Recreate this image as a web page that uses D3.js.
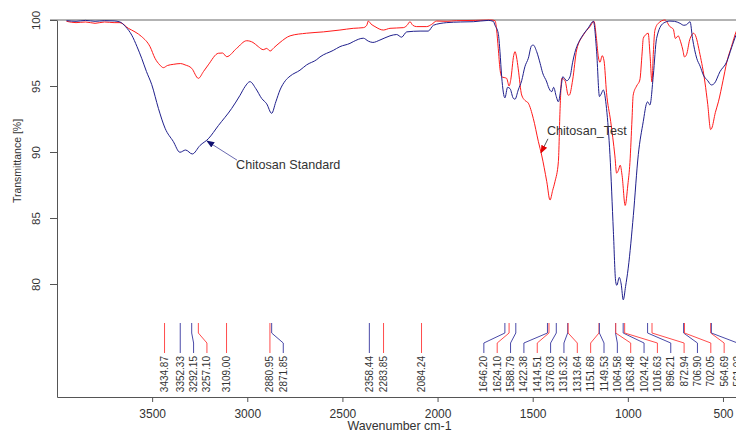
<!DOCTYPE html>
<html>
<head>
<meta charset="utf-8">
<script src="https://cdn.jsdelivr.net/npm/d3@7"></script>
<style>
  body { margin: 0; background: #fff; }
  svg { display: block; font-family: 'Liberation Sans', Arial, sans-serif; }
</style>
</head>
<body>
<svg width="736" height="432"></svg>
<script>
// [wavenumber cm-1, transmittance %]
const standardSpectrum = [
  [3950, 99.95], [3900, 99.9], [3850, 99.97], [3800, 99.9], [3750, 99.95], [3700, 99.93], [3669, 99.85],
  [3640, 99.5], [3607, 98.85], [3580, 98.0], [3555, 97.1], [3530, 96.1], [3502, 95.1], [3467, 93.3],
  [3432, 91.8], [3389, 90.8], [3354, 89.98], [3324, 90.15], [3289, 89.85], [3248, 90.5], [3205, 91.0],
  [3152, 92.0], [3082, 93.3], [3038, 94.3], [3012, 94.95], [2986, 95.33], [2955, 94.8], [2924, 94.05],
  [2898, 93.65], [2872, 92.93], [2850, 93.8], [2828, 94.7], [2800, 95.4], [2775, 95.75], [2723, 96.2],
  [2688, 96.6], [2635, 97.0], [2618, 97.2], [2548, 97.7], [2513, 97.98], [2460, 98.23], [2443, 98.36],
  [2390, 98.62], [2364, 98.4], [2340, 98.3], [2303, 98.48], [2250, 98.8], [2215, 98.9], [2189, 98.7],
  [2162, 99.1], [2092, 99.16], [2049, 99.16], [2022, 99.6], [1952, 99.8], [1880, 99.85], [1812, 99.87],
  [1733, 99.97], [1707, 99.9], [1698, 99.6], [1681, 98.99], [1672, 97.6], [1663, 95.7], [1646, 94.1],
  [1632, 94.9], [1619, 94.8], [1602, 94.07], [1593, 94.0], [1576, 94.7], [1558, 95.4], [1541, 96.46],
  [1523, 97.1], [1506, 98.05], [1497, 98.1], [1479, 97.6], [1461, 96.72], [1448, 96.0], [1426, 95.3],
  [1418, 94.95], [1400, 94.57], [1390, 94.9], [1376, 94.2], [1365, 93.8], [1350, 95.0], [1342, 95.7],
  [1321, 95.4], [1304, 95.7], [1290, 96.8], [1278, 97.55], [1252, 98.48], [1234, 98.9], [1208, 99.4],
  [1181, 99.9], [1164, 97.6], [1149, 94.2], [1140, 94.4], [1129, 94.7], [1112, 93.3], [1094, 89.8],
  [1076, 84.0], [1064, 80.2], [1058, 79.9], [1045, 80.5], [1035, 80.0], [1024, 78.8], [1012, 79.8],
  [998, 81.2], [971, 85.2], [945, 89.8], [919, 92.3], [901, 93.7], [896, 93.8], [884, 93.56],
  [866, 95.83], [849, 98.6], [814, 99.75], [779, 99.92], [755, 99.9], [726, 99.75], [706, 99.6],
  [691, 99.65], [673, 99.87], [660, 98.6], [638, 97.1], [620, 96.5], [603, 95.83], [580, 95.4],
  [561, 95.08], [545, 95.2], [516, 96.08], [480, 96.84], [455, 97.9], [431, 98.86], [400, 99.6]
]

const testSpectrum = [
  [3950, 99.9], [3900, 99.8], [3850, 99.85], [3800, 99.75], [3750, 99.85], [3700, 99.8], [3669, 99.8],
  [3625, 99.37], [3590, 99.1], [3555, 98.74], [3511, 97.98], [3485, 97.1], [3460, 96.6], [3441, 96.39],
  [3420, 96.55], [3389, 96.64], [3350, 96.7], [3327, 96.6], [3292, 96.34], [3257, 95.58], [3230, 96.1],
  [3205, 96.6], [3152, 97.48], [3130, 97.5], [3108, 97.22], [3056, 97.85], [3003, 98.43], [2970, 98.3],
  [2942, 97.98], [2916, 97.75], [2898, 97.85], [2880, 97.65], [2860, 97.9], [2828, 98.3], [2775, 98.8],
  [2688, 99.0], [2600, 99.1], [2513, 99.24], [2443, 99.37], [2390, 99.42], [2372, 99.6], [2364, 99.92],
  [2350, 99.7], [2329, 99.5], [2285, 99.24], [2250, 99.37], [2180, 99.42], [2160, 99.6], [2145, 99.87],
  [2130, 99.6], [2110, 99.5], [2057, 99.5], [2031, 99.67], [2005, 99.92], [1950, 99.9], [1900, 99.95],
  [1800, 99.97], [1720, 100], [1698, 99.95], [1690, 99.3], [1681, 97.85], [1672, 96.3], [1663, 95.7],
  [1637, 95.58], [1624, 95.0], [1615, 95.5], [1600, 97.3], [1593, 97.6], [1585, 97.2], [1576, 96.3],
  [1558, 94.32], [1540, 93.9], [1523, 93.7], [1497, 92.55], [1470, 90.78], [1453, 89.77], [1426, 87.75],
  [1409, 86.36], [1395, 87.1], [1383, 87.75], [1365, 89.27], [1356, 93.3], [1347, 95.58], [1330, 95.4],
  [1313, 94.3], [1307, 94.32], [1290, 95.45], [1269, 97.73], [1234, 98.86], [1199, 99.5], [1178, 99.9],
  [1165, 98.6], [1155, 97.2], [1146, 96.8], [1135, 97.3], [1125, 96.9], [1112, 94.5], [1090, 92.3],
  [1068, 89.7], [1059, 88.4], [1050, 88.6], [1040, 89.0], [1030, 88.2], [1014, 85.95], [1000, 87.5],
  [989, 89.2], [978, 92.5], [972, 94.3], [954, 95.0], [937, 95.45], [925, 97.5], [919, 98.6],
  [905, 98.9], [893, 99.0], [884, 97.5], [873, 95.3], [866, 97.5], [858, 99.2], [840, 99.75],
  [805, 100], [779, 99.5], [761, 99.3], [750, 98.6], [735, 98.8], [726, 98.5], [712, 97.8],
  [702, 97.2], [691, 97.4], [675, 98.5], [664, 98.86], [656, 99.0], [647, 98.9], [621, 97.4],
  [595, 95.3], [580, 93.6], [565, 91.7], [559, 91.8], [540, 93.0], [524, 93.8], [500, 95.4],
  [480, 96.8], [455, 98.0], [431, 99.1], [400, 99.7]
]

const xTicks = [3500, 3000, 2500, 2000, 1500, 1000, 500]
const yTicks = [80, 85, 90, 95, 100]

const peakLabels = [
  '3434.87', '3352.33', '3292.15', '3257.10', '3109.00', '2880.95', '2871.85', '2358.44', '2283.85',
  '2084.24', '1646.20', '1624.10', '1588.79', '1422.38', '1414.51', '1376.03', '1316.32', '1313.64',
  '1151.68', '1149.53', '1064.58', '1063.48', '1024.42', '1016.63', '896.21', '872.94', '706.90',
  '702.05', '564.69', '561.02'
]
const peakSeries = [
  'test', 'standard', 'standard', 'test', 'test', 'test', 'standard', 'standard', 'test',
  'test', 'standard', 'test', 'standard', 'standard', 'test', 'standard', 'standard', 'test',
  'test', 'standard', 'standard', 'test', 'standard', 'test', 'standard', 'test', 'standard',
  'test', 'test', 'standard'
]

const annotations = [
  { text: 'Chitosan Standard', series: 'standard', tip: [3212, 90.83], at: [3059, 88.7] },
  { text: 'Chitosan_Test', series: 'test', tip: [1456, 89.95], at: [1425, 91.3] }
]

const colors = { standard: '#1f1f8c', test: '#ff1a1a' }
const labelColors = { standard: '#4a4aa8', test: '#ff4d4d' }

let svg = d3.select('svg')

let x = d3.scaleLinear().domain([4000, 400]).range([57, 742])
let y = d3.scaleLinear().domain([71.44, 100]).range([397, 20])

let defs = svg.append('defs')
Object.keys(colors).forEach(function (k) {
  defs.append('marker')
    .attr('id', 'arrow_' + k)
    .attr('viewBox', '0 -5 10 10')
    .attr('markerUnits', 'userSpaceOnUse')
    .attr('markerWidth', 8)
    .attr('markerHeight', 8)
    .attr('refX', 9)
    .attr('refY', 0)
    .attr('orient', 'auto')
    .append('path')
    .attr('d', 'M0,-4L10,0L0,4Z')
    .attr('fill', k === 'standard' ? '#101070' : '#e00000')
})

// reference line at 100 %
svg.append('line')
  .attr('x1', x(4000) - 7).attr('x2', x(400))
  .attr('y1', y(100)).attr('y2', y(100))
  .attr('stroke', '#b3b3b3')
  .attr('stroke-width', 2)

// axes
let xAxis = svg.append('g')
  .attr('transform', 'translate(0,' + y(71.44) + ')')
  .call(d3.axisBottom(x).tickValues(xTicks).tickFormat(d3.format('d'))
    .tickSize(5).tickSizeOuter(0).tickPadding(7))
xAxis.selectAll('path, line').attr('stroke', '#555')
xAxis.selectAll('text').attr('font-size', '12px').attr('fill', '#333').attr('font-family', null)

let yAxis = svg.append('g')
  .attr('transform', 'translate(' + x(4000) + ',0)')
  .call(d3.axisLeft(y).tickValues(yTicks).tickSize(7).tickSizeOuter(0))
yAxis.selectAll('path, line').attr('stroke', '#555')
yAxis.selectAll('text')
  .attr('x', null)
  .attr('dy', '0.35em')
  .attr('transform', 'translate(-21,0) rotate(-90)')
  .attr('text-anchor', 'middle')
  .attr('font-size', '11.5px')
  .attr('fill', '#333')
  .attr('font-family', null)

svg.append('text')
  .attr('x', (x(4000) + x(400)) / 2)
  .attr('y', 430)
  .attr('text-anchor', 'middle')
  .attr('font-size', '12.4px')
  .attr('fill', '#333')
  .text('Wavenumber cm-1')

svg.append('text')
  .attr('transform', 'translate(21,161) rotate(-90)')
  .attr('text-anchor', 'middle')
  .attr('font-size', '10.5px')
  .attr('fill', '#333')
  .text('Transmittance [%]')

// spectra
let line = d3.line()
  .x(d => x(d[0]))
  .y(d => y(d[1]))
  .curve(d3.curveMonotoneX)

svg.append('path').datum(testSpectrum)
  .attr('d', line)
  .attr('fill', 'none')
  .attr('stroke', colors.test)
  .attr('stroke-width', 1)
  .attr('stroke-linejoin', 'round')

svg.append('path').datum(standardSpectrum)
  .attr('d', line)
  .attr('fill', 'none')
  .attr('stroke', colors.standard)
  .attr('stroke-width', 1)
  .attr('stroke-linejoin', 'round')

// peak labels, spread apart so they do not overlap
let peaks = peakLabels.map((label, i) => ({ label, series: peakSeries[i], px: x(+label) }))
  .sort((a, b) => a.px - b.px)
let gap = 13.35
let rightLimit = x(400) - 4.5
for (let i = 0; i < peaks.length; i++) {
  peaks[i].lx = i ? Math.max(peaks[i].px, peaks[i - 1].lx + gap) : peaks[i].px
}
for (let i = peaks.length - 1; i >= 0; i--) {
  let limit = i === peaks.length - 1 ? rightLimit : peaks[i + 1].lx - gap
  peaks[i].lx = Math.min(peaks[i].lx, limit)
}

let bottom = y(71.44)
let peakG = svg.append('g')
peaks.forEach(function (p) {
  peakG.append('path')
    .attr('d', 'M' + p.px + ',' + (bottom - 74) + 'L' + p.px + ',' + (bottom - 64) +
      'L' + p.lx + ',' + (bottom - 54) + 'L' + p.lx + ',' + (bottom - 44))
    .attr('fill', 'none')
    .attr('stroke', labelColors[p.series])
    .attr('stroke-width', 1)
  peakG.append('text')
    .attr('transform', 'translate(' + p.lx + ',' + (bottom - 41) + ') rotate(-90)')
    .attr('dy', '0.35em')
    .attr('text-anchor', 'end')
    .attr('font-size', '10px')
    .attr('fill', '#333')
    .text(p.label)
})

// annotations
annotations.forEach(function (a) {
  let tx = x(a.at[0])
  let ty = y(a.at[1])
  let sy = a.series === 'standard' ? ty - 9 : ty + 4
  svg.append('line')
    .attr('x1', tx + 1).attr('y1', sy)
    .attr('x2', x(a.tip[0])).attr('y2', y(a.tip[1]))
    .attr('stroke', a.series === 'standard' ? '#6a6ab0' : '#555')
    .attr('stroke-width', 1)
    .attr('marker-end', 'url(#arrow_' + a.series + ')')
  svg.append('text')
    .attr('x', tx)
    .attr('y', ty)
    .attr('font-size', '12.6px')
    .attr('fill', '#333')
    .text(a.text)
})
</script>
</body>
</html>
